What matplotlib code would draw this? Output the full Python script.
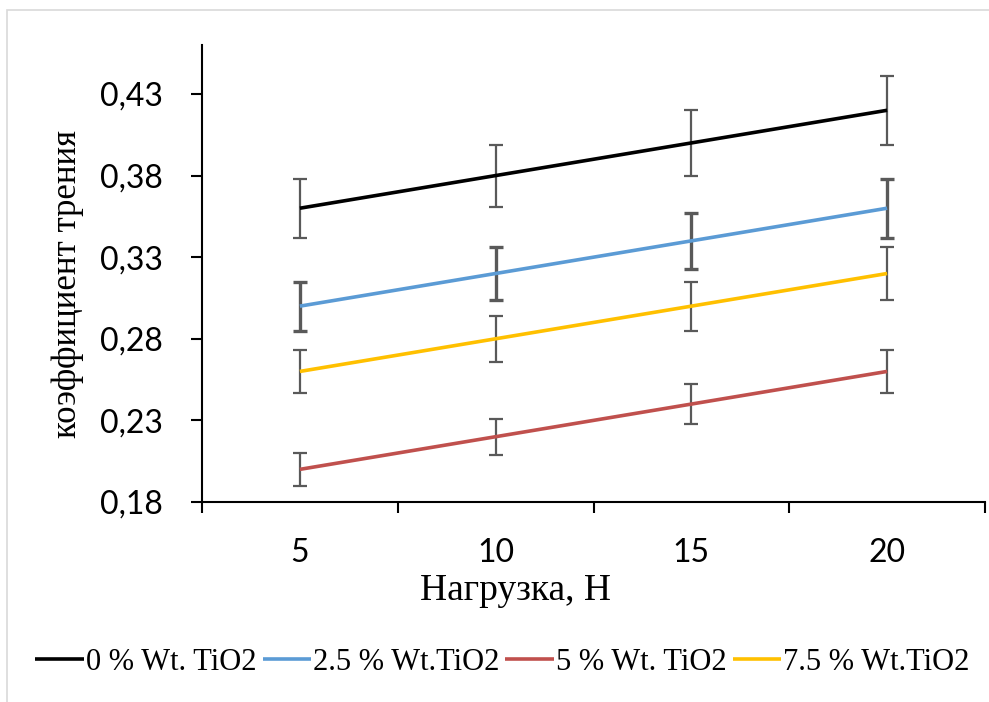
import matplotlib.pyplot as plt
from matplotlib.patches import Rectangle

load = [5, 10, 15, 20]
mu_0 = [0.36, 0.38, 0.40, 0.42]
mu_25 = [0.30, 0.32, 0.34, 0.36]
mu_5 = [0.20, 0.22, 0.24, 0.26]
mu_75 = [0.26, 0.28, 0.30, 0.32]
err_frac = 0.05  # 5 % error bars

labels = ["0 % Wt. TiO2", "2.5 % Wt.TiO2", "5 % Wt. TiO2", "7.5 % Wt.TiO2"]
colors = ["#000000", "#5B9BD5", "#C0504D", "#FFC000"]
yticks = [0.18, 0.23, 0.28, 0.33, 0.38, 0.43]
yticklabels = ["0,18", "0,23", "0,28", "0,33", "0,38", "0,43"]

serif = "Liberation Serif"
sans = "Lato"

fig = plt.figure(figsize=(9.89, 7.02), dpi=100)
fig.patches.append(Rectangle((7 / 989, -0.05), 1.1, 1 - 10 / 702 + 0.05,
                             transform=fig.transFigure, fill=False,
                             edgecolor="#D9D9D9", lw=1.2))
ax = fig.add_axes([202 / 989, 1 - 502 / 702, 783 / 989, 457 / 702])

series = [mu_0, mu_25, mu_5, mu_75]
for s, lab, c in zip(series, labels, colors):
    err = [v * err_frac for v in s]
    elw = 2.4 if c == "#5B9BD5" else 1.6
    ax.errorbar(load, s, yerr=err, fmt="none", ecolor="#595959",
                elinewidth=elw, capsize=5, capthick=elw, zorder=2)
    ax.plot(load, s, color=c, lw=2.6, label=lab, zorder=3,
            solid_capstyle="butt")

ax.set_xlim(2.5, 22.5)
ax.set_ylim(0.18, 0.46)
ax.set_xticks([2.5, 7.5, 12.5, 17.5, 22.5])
ax.set_xticklabels([])
ax.set_xticks(load, minor=True)
ax.set_xticklabels([str(v) for v in load], minor=True)
ax.tick_params(axis="x", which="major", length=8, width=1.5, direction="out")
ax.tick_params(axis="x", which="minor", length=0, pad=26, labelsize=23)
ax.set_yticks(yticks)
ax.set_yticklabels(yticklabels)
ax.tick_params(axis="y", length=8, width=1.5, direction="out", pad=20,
               labelsize=23)
for t in ax.get_xticklabels(minor=True) + ax.get_yticklabels():
    t.set_fontfamily(sans)

for side in ["top", "right"]:
    ax.spines[side].set_visible(False)
for side in ["left", "bottom"]:
    ax.spines[side].set_linewidth(1.5)

ax.set_xlabel("Нагрузка, Н", fontfamily=serif, fontsize=27)
ax.xaxis.set_label_coords((516 - 202) / 783, (502 - 574) / 457)
ax.set_ylabel("коэффициент трения", fontfamily=serif, fontsize=25)
ax.yaxis.set_label_coords((84 - 202) / 783, 0.476)

fig.legend(loc="center", bbox_to_anchor=(0.508, 1 - 662 / 702), ncol=4,
           frameon=False, prop={"family": serif, "size": 22},
           handlelength=1.6, handletextpad=0.05, columnspacing=0.2)

fig.savefig("out.png", dpi=100)
